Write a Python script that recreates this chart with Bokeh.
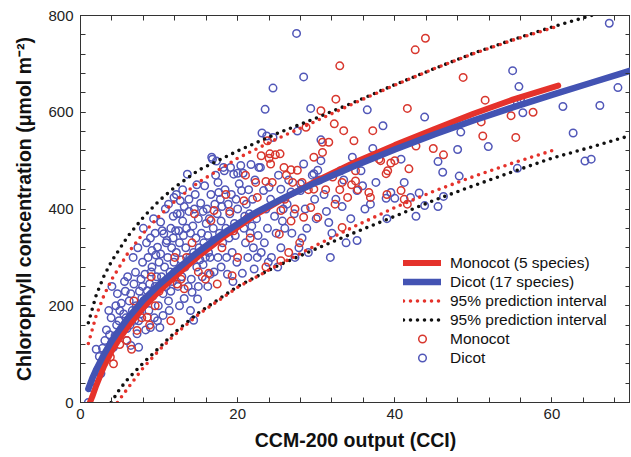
from bokeh.plotting import figure
from bokeh.models import (Range1d, FixedTicker, LinearAxis, Legend, LegendItem)
from bokeh.embed import file_html
from bokeh.resources import INLINE

# ---------------- data ----------------
x_major_ticks = [0, 20, 40, 60]
x_minor_ticks = list(range(0, 71, 4))
y_major_ticks = [0, 200, 400, 600, 800]
y_minor_ticks = list(range(0, 801, 40))

# fitted curves
dicot_fit_x = [1, 1.5, 2, 3, 4, 5, 6, 8, 10, 12, 15, 18, 22, 26, 30, 35, 40, 45, 50, 55, 60, 65, 70]
dicot_fit_y = [28, 50, 68, 100, 128, 152, 174, 212, 244, 272, 312, 348, 390, 424, 455, 490, 523, 554, 583, 610, 636, 661, 686]
mono_fit_x = [1.2, 1.5, 2, 3, 4, 5, 6, 8, 10, 12, 15, 18, 22, 26, 30, 35, 40, 45, 50, 55, 60.8]
mono_fit_y = [0, 12, 35, 75, 107, 133, 156, 196, 230, 260, 302, 340, 385, 423, 458, 497, 532, 565, 597, 626, 655]

# 95% prediction intervals
black_up_x = [1, 2, 3, 4, 6, 8, 10, 12, 15, 20, 25, 30, 35, 40, 45, 50, 55, 60, 65, 70]
black_up_y = [165, 222, 262, 293, 343, 383, 417, 445, 480, 520, 556, 588, 622, 657, 690, 722, 750, 776, 800, 825]
red_up_x = [1, 2, 3, 4, 6, 8, 10, 12, 15, 20, 25, 30, 35, 40, 45, 50, 55, 60.8]
red_up_y = [122, 180, 222, 255, 308, 350, 385, 416, 455, 505, 545, 582, 620, 656, 690, 721, 749, 778]
black_lo_x = [3.9, 5, 6, 8, 10, 12, 15, 20, 25, 30, 35, 40, 45, 50, 55, 60, 65, 70]
black_lo_y = [0, 28, 48, 82, 113, 145, 185, 240, 282, 318, 352, 385, 418, 448, 477, 505, 528, 552]
red_lo_x = [4.7, 5.5, 6.5, 8, 10, 12, 15, 20, 25, 30, 35, 40, 45, 50, 55, 60.7]
red_lo_y = [0, 18, 40, 72, 108, 140, 182, 238, 283, 325, 365, 403, 437, 467, 495, 524]

# observations (CCI, chlorophyll)
dicot_obs = [
    (1.0, 0), (1.6, 30), (1.9, 52), (2.2, 68), (2.4, 95), (2.6, 60), (2.8, 112), (3.0, 85),
    (3.1, 128), (3.3, 150), (3.5, 105), (3.7, 140), (3.9, 175), (2.0, 110), (3.6, 190), (3.9, 121),
    (4.2, 114), (4.4, 138), (4.6, 160), (4.9, 169), (5.0, 190), (5.2, 205), (5.5, 183), (5.3, 150),
    (5.7, 230), (5.9, 153), (5.9, 128), (4.7, 225), (5.6, 250), (4.5, 200), (5.8, 175), (4.0, 240),
    (6.2, 210), (6.4, 225), (6.4, 118), (6.6, 190), (6.8, 245), (6.9, 170), (7.0, 269), (7.1, 200),
    (7.2, 142), (7.4, 114), (7.4, 169), (7.5, 230), (7.6, 183), (7.7, 255), (7.8, 215), (7.9, 290),
    (6.0, 260), (6.7, 300), (7.3, 320), (7.9, 240), (6.3, 160), (7.0, 185),
    (8.1, 211), (8.2, 265), (8.3, 150), (8.5, 231), (8.6, 300), (8.7, 190), (8.8, 245), (8.9, 340),
    (9.0, 270), (9.1, 280), (9.1, 314), (9.2, 220), (9.4, 175), (9.5, 350), (9.6, 305), (9.7, 260),
    (9.8, 321), (9.8, 169), (9.9, 235), (10.0, 290), (8.4, 330), (9.3, 380), (8.0, 360), (9.9, 200),
    (8.9, 155), (9.5, 240),
    (10.1, 155), (10.2, 307), (10.2, 373), (10.3, 260), (10.4, 355), (10.5, 225), (10.6, 349),
    (10.7, 280), (10.8, 400), (10.9, 240), (11.0, 335), (11.1, 300), (11.2, 410), (11.3, 190),
    (11.4, 270), (11.5, 360), (11.6, 320), (11.7, 250), (11.8, 385), (11.9, 424), (11.9, 290),
    (10.5, 180), (11.2, 210), (11.5, 230), (10.9, 330), (11.8, 340),
    (12.0, 270), (12.1, 355), (12.2, 310), (12.3, 390), (12.4, 240), (12.5, 355), (12.6, 330),
    (12.7, 417), (12.7, 390), (12.8, 295), (12.9, 260), (13.0, 375), (13.1, 345), (13.2, 405),
    (13.3, 280), (13.4, 320), (13.5, 360), (13.6, 472), (13.7, 240), (13.8, 395), (13.9, 300),
    (14.0, 190), (12.6, 200), (13.2, 215), (14.0, 350), (13.0, 440), (12.2, 430), (13.8, 420),
    (14.1, 255), (14.2, 228), (14.3, 365), (14.4, 310), (14.5, 400), (14.6, 430), (14.7, 340),
    (14.8, 280), (14.9, 214), (15.0, 380), (15.1, 320), (15.2, 295), (15.3, 412), (15.4, 350),
    (15.5, 260), (15.6, 395), (15.7, 330), (15.8, 448), (15.9, 300), (16.0, 370), (14.4, 170),
    (15.0, 240), (15.6, 285), (14.8, 450),
    (16.1, 400), (16.2, 345), (16.3, 310), (16.4, 380), (16.5, 265), (16.6, 430), (16.7, 507),
    (16.8, 503), (16.9, 360), (17.0, 335), (17.1, 410), (17.2, 470), (17.3, 499), (17.4, 390),
    (17.5, 300), (17.6, 434), (17.7, 350), (17.8, 420), (17.9, 280), (16.2, 240), (17.0, 270),
    (17.5, 455), (16.5, 300), (17.9, 375),
    (18.0, 405), (18.1, 330), (18.2, 486), (18.3, 479), (18.4, 440), (18.5, 360), (18.6, 300),
    (18.8, 410), (18.9, 340), (19.0, 390), (19.1, 486), (19.2, 430), (19.3, 310), (19.5, 472),
    (19.6, 370), (19.7, 345), (19.8, 420), (19.9, 290), (20.0, 474), (18.7, 265), (19.4, 250),
    (20.0, 400),
    (20.2, 452), (20.4, 490), (20.5, 438), (20.6, 267), (20.7, 474), (20.8, 360), (21.0, 330),
    (21.1, 410), (21.3, 300), (21.5, 390), (21.6, 350), (21.7, 492), (21.9, 420), (22.0, 320),
    (22.1, 276), (20.9, 385), (21.4, 440), (21.8, 365),
    (22.2, 460), (22.4, 380), (22.6, 345), (22.7, 486), (22.9, 486), (23.0, 310), (23.1, 557),
    (23.3, 438), (23.5, 606), (23.6, 400), (23.7, 551), (23.8, 360), (24.0, 445), (22.5, 300),
    (23.4, 330), (23.9, 290),
    (24.2, 420), (24.5, 650), (24.5, 548), (24.7, 385), (24.9, 350), (25.2, 470), (25.5, 441),
    (25.5, 320), (25.8, 400), (26.0, 360), (24.3, 300), (25.1, 280), (25.7, 375),
    (26.3, 410), (26.8, 435), (26.9, 350), (27.2, 390), (27.5, 763), (27.6, 561), (27.8, 320),
    (28.0, 452), (28.0, 438), (26.5, 460), (27.3, 300),
    (28.4, 673), (28.4, 493), (28.6, 400), (28.8, 360), (29.3, 608), (29.5, 470), (29.7, 473),
    (29.8, 420), (30.0, 380), (28.2, 340), (29.0, 310),
    (30.2, 480), (30.4, 460), (30.6, 543), (30.6, 500), (31.0, 430), (31.3, 395), (31.6, 372),
    (32.0, 350), (32.5, 420), (33.1, 479), (33.3, 405), (33.5, 460), (33.8, 330), (31.8, 300),
    (34.4, 380), (34.6, 507), (35.2, 438), (35.2, 335), (35.7, 479), (35.9, 448), (36.2, 400),
    (36.5, 605), (36.9, 410), (37.2, 525), (37.6, 455), (38.5, 572), (38.9, 422), (39.5, 434),
    (39.0, 380), (40.0, 422), (40.8, 503),
    (41.2, 455), (42.0, 424), (42.7, 385), (43.1, 433), (43.8, 590), (43.8, 407), (45.5, 498),
    (45.5, 405), (46.1, 476), (46.2, 426), (48.0, 523), (48.2, 468), (48.4, 559),
    (51.9, 529), (55.0, 686), (55.6, 620), (55.8, 653), (56.0, 627), (56.3, 599), (55.6, 484),
    (61.4, 612), (62.7, 557), (64.2, 499), (65.0, 503), (66.1, 614), (67.3, 784), (68.4, 651),
]

mono_obs = [
    (3.8, 94), (4.2, 80), (5.0, 120), (5.9, 128), (6.5, 110), (7.2, 149), (7.8, 175), (8.5, 176),
    (8.8, 160), (9.5, 200), (10.0, 230), (9.0, 260), (6.8, 210),
    (11.5, 169), (12.3, 245), (12.8, 255), (13.2, 235), (13.5, 300), (14.2, 330), (15.0, 270),
    (15.9, 255), (16.3, 267), (14.5, 390), (12.0, 300),
    (16.6, 376), (17.0, 397), (17.4, 245), (18.0, 320), (18.5, 430), (19.3, 262), (19.5, 355),
    (20.0, 300), (20.8, 417), (21.2, 380), (21.6, 340), (22.3, 455), (22.5, 424), (19.0, 395),
    (21.0, 470),
    (23.0, 510), (23.6, 280), (23.8, 541), (24.0, 505), (24.2, 493), (24.4, 455), (24.8, 512),
    (25.3, 348), (25.5, 397), (25.5, 293), (25.9, 486), (26.2, 470), (26.5, 310), (26.8, 375),
    (27.0, 455), (27.3, 400), (27.6, 480), (27.9, 330), (26.0, 420), (23.6, 457), (25.4, 514),
    (24.1, 514), (26.8, 481),
    (28.2, 455), (28.4, 383), (28.7, 569), (29.0, 440), (29.3, 403), (29.7, 507), (29.7, 441),
    (30.2, 383), (30.6, 603), (30.8, 538), (30.8, 517), (31.2, 440), (31.6, 538), (32.1, 466),
    (32.3, 576), (32.4, 410), (32.5, 627), (33.0, 440), (33.3, 455), (33.3, 362), (33.5, 562),
    (34.0, 424), (33.0, 696),
    (34.5, 450), (34.8, 541), (35.0, 479), (35.0, 458), (35.3, 440), (36.7, 434), (36.9, 424),
    (37.2, 562), (38.0, 503), (38.2, 500), (38.9, 473), (39.0, 430), (39.1, 479), (39.5, 495),
    (40.0, 500), (40.8, 438), (41.2, 420), (41.6, 608), (41.8, 483), (41.6, 410),
    (42.6, 729), (42.7, 530), (43.9, 753), (44.9, 525), (46.2, 512), (48.7, 672), (51.0, 580),
    (51.2, 551), (51.5, 625), (54.8, 593), (55.4, 548), (57.6, 600),
]

dicot_cci = [pt[0] for pt in dicot_obs]
dicot_chl = [pt[1] for pt in dicot_obs]
mono_cci = [pt[0] for pt in mono_obs]
mono_chl = [pt[1] for pt in mono_obs]

# ---------------- styling ----------------
FONT = "Liberation Sans"
RED = "#E5322B"
BLUE = "#4353B3"
RED_PT = "#D8372E"
BLUE_PT = "#5157B8"
AX = "#333333"

p = figure(frame_width=550, frame_height=387, output_backend="svg", toolbar_location=None,
           x_range=Range1d(0, 70), y_range=Range1d(0, 800),
           min_border_left=80, min_border_right=0, min_border_top=15, min_border_bottom=52)
p.xgrid.visible = False
p.ygrid.visible = False
p.outline_line_color = AX
p.outline_line_width = 1
p.background_fill_color = "white"
p.border_fill_color = "white"


def style_axis(ax, labels=True):
    ax.axis_line_color = AX
    ax.major_tick_line_color = AX
    ax.minor_tick_line_color = AX
    ax.major_tick_in = 5
    ax.major_tick_out = 0
    ax.minor_tick_in = 5
    ax.minor_tick_out = 0
    if labels:
        ax.major_label_text_font = FONT
        ax.major_label_text_font_size = "15px"
        ax.major_label_text_color = "#222222"
        ax.axis_label_text_font = FONT
        ax.axis_label_text_font_style = "bold"
        ax.axis_label_text_font_size = "19.5px"
        ax.axis_label_text_color = "#111111"
    else:
        ax.major_label_text_font_size = "0px"
        ax.major_label_standoff = 0


p.xaxis.ticker = FixedTicker(ticks=x_major_ticks, minor_ticks=x_minor_ticks)
p.yaxis.ticker = FixedTicker(ticks=y_major_ticks, minor_ticks=y_minor_ticks)
p.xaxis.axis_label = "CCM-200 output (CCI)"
p.yaxis.axis_label = "Chlorophyll concentration (\u03bcmol m\u207b\u00b2)"
style_axis(p.xaxis[0])
style_axis(p.yaxis[0])
p.xaxis.major_label_standoff = 6
p.xaxis.axis_label_standoff = 7
p.yaxis.major_label_standoff = 7
p.yaxis.axis_label_standoff = 10

top_ax = LinearAxis(ticker=FixedTicker(ticks=x_major_ticks, minor_ticks=x_minor_ticks),
                    major_label_overrides={t: "" for t in x_major_ticks})
right_ax = LinearAxis(ticker=FixedTicker(ticks=y_major_ticks, minor_ticks=y_minor_ticks),
                      major_label_overrides={t: "" for t in y_major_ticks})
style_axis(top_ax, labels=False)
style_axis(right_ax, labels=False)
p.add_layout(top_ax, "above")
p.add_layout(right_ax, "right")

# scatter points
r_dic_pts = p.scatter(dicot_cci, dicot_chl, marker="circle", size=7.5, fill_color=None,
                      line_color=BLUE_PT, line_width=1.5)
r_mono_pts = p.scatter(mono_cci, mono_chl, marker="circle", size=7.5, fill_color=None,
                       line_color=RED_PT, line_width=1.5)

# prediction intervals
dot_kw = dict(line_dash="0 7", line_cap="round", line_width=3.6)
r_blk = p.line(black_up_x, black_up_y, line_color="#111111", **dot_kw)
p.line(black_lo_x, black_lo_y, line_color="#111111", **dot_kw)
r_red_pi = p.line(red_up_x, red_up_y, line_color=RED, **dot_kw)
p.line(red_lo_x, red_lo_y, line_color=RED, **dot_kw)

# fits
r_mono = p.line(mono_fit_x, mono_fit_y, line_color=RED, line_width=6, line_cap="round")
r_dic = p.line(dicot_fit_x, dicot_fit_y, line_color=BLUE, line_width=6.5, line_cap="round")

legend = Legend(items=[
    LegendItem(label="Monocot (5 species)", renderers=[r_mono]),
    LegendItem(label="Dicot (17 species)", renderers=[r_dic]),
    LegendItem(label="95% prediction interval", renderers=[r_red_pi]),
    LegendItem(label="95% prediction interval", renderers=[r_blk]),
    LegendItem(label="Monocot", renderers=[r_mono_pts]),
    LegendItem(label="Dicot", renderers=[r_dic_pts]),
])
legend.location = (323, 35)
legend.border_line_color = None
legend.background_fill_alpha = 0
legend.padding = 5
legend.spacing = 0
legend.margin = 0
legend.label_height = 19
legend.glyph_height = 19
legend.glyph_width = 38
legend.label_standoff = 9
legend.label_text_font = FONT
legend.label_text_font_size = "15.5px"
legend.label_text_color = "#111111"
p.add_layout(legend)

open("out.html", "w").write(file_html(p, INLINE))
